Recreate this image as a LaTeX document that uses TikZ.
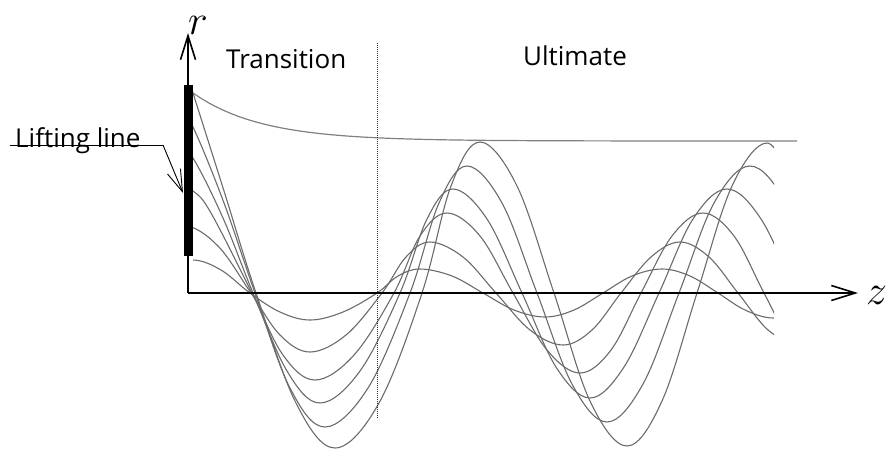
\documentclass[tikz,border=0pt]{standalone}
\usepackage{fix-cm}
\usepackage{fontspec}
\setmainfont{Open Sans}
\usetikzlibrary{arrows.meta}
\tikzset{
  wave/.style={draw=black!58, line width=1.1pt},
  envelope/.style={draw=black!50, line width=1.2pt},
  axisline/.style={line width=1.6pt, -{Straight Barb[length=24pt,width=15pt]}},
  leader/.style={line width=0.9pt},
  leaderarrow/.style={line width=0.9pt, -{Straight Barb[length=22pt,width=14pt]}},
  lbl/.style={font=\fontsize{26}{30}\selectfont, inner sep=0pt},
  mathlbl/.style={font=\fontsize{42}{42}\selectfont, inner sep=0pt},
  divider/.style={line width=0.8pt, draw=black!80, dash pattern=on 1pt off 1pt},
}
\begin{document}
\begin{tikzpicture}[x=1pt,y=1pt]
\useasboundingbox (0,-158) rectangle (888,293);

% coordinates
\coordinate (O) at (188,0);
\coordinate (rtip) at (188,260);
\coordinate (ztip) at (858,0);
\coordinate (divtop) at (377,250);
\coordinate (divbot) at (377,-125);
\coordinate (ll1) at (10,148);
\coordinate (ll2) at (163,148);
\coordinate (lltip) at (183,100);

% waves
\begin{scope}
\clip (193,-200) rectangle (774,300);
\draw[wave] plot[smooth, tension=0.6] coordinates {(165,24) (193,33) (221,23) (250,0) (280,-19) (310,-27) (343,-19) (377,0) (398,17) (420,24) (452,17) (483,0) (514,-17) (545,-24) (574,-17) (603,0) (632,17) (662,24) (690,17) (718,0) (745,-17) (773,-25) (800,-17)};
\draw[wave] plot[smooth, tension=0.6] coordinates {(160,47) (185,67) (218,47) (251,0) (280,-42) (310,-59) (346,-42) (382,0) (406,36) (430,51) (463,36) (496,0) (530,-37) (563,-52) (592,-37) (621,0) (651,36) (680,51) (709,36) (738,0) (768,-37) (797,-52)};
\draw[wave] plot[smooth, tension=0.6] coordinates {(129,80) (170,113) (193,102) (211,80) (252,0) (283,-62) (315,-87) (354,-62) (394,0) (420,57) (447,80) (480,57) (513,0) (547,-57) (580,-80) (611,-57) (641,0) (672,57) (703,80) (734,57) (764,0) (795,-57) (826,-80)};
\draw[wave] plot[smooth, tension=0.6] coordinates {(148,172) (170,163) (193,135) (223,75) (253,0) (287,-78) (320,-110) (360,-78) (400,0) (427,74) (453,104) (487,74) (522,0) (556,-74) (590,-105) (624,-74) (659,0) (693,74) (727,104) (761,74) (796,0) (830,-74)};
\draw[wave] plot[smooth, tension=0.6] coordinates {(136,227) (170,205) (193,166) (224,90) (255,0) (290,-95) (325,-134) (368,-95) (410,0) (439,90) (467,127) (502,90) (537,0) (572,-91) (607,-129) (643,-91) (679,0) (714,90) (750,127) (786,90) (822,0)};
\draw[wave] plot[smooth, tension=0.6] coordinates {(175,258) (193,200) (224,102) (256,0) (296,-110) (335,-155) (379,-110) (422,0) (451,107) (480,151) (517,107) (554,0) (590,-108) (627,-153) (662,-108) (697,0) (732,107) (767,150) (795,107)};
\end{scope}

% envelope
\draw[envelope] plot[domain=193:797, samples=80] (\x, {152+48*exp(-(\x-193)/68)});

% divider
\draw[divider] (divtop) -- (divbot);

% axes
\draw[axisline] (O) -- (rtip);
\draw[axisline] (O) -- (ztip);

% lifting line bar
\fill[black] (184,37) rectangle (193,208);

% labels
\node[mathlbl, anchor=base] (rl) at (198,259) {$r$};
\node[mathlbl, anchor=base west] (zl) at (866,-11) {$z$};
\node[lbl, anchor=base west] (tr) at (226,225) {Transition};
\node[lbl, anchor=base west] (ul) at (523,228) {Ultimate};
\node[lbl, anchor=base west] (lift) at (15,146) {Lifting line};

\draw[leader] (ll1) -- (ll2);
\draw[leaderarrow] (ll2) -- (lltip);
\end{tikzpicture}
\end{document}
